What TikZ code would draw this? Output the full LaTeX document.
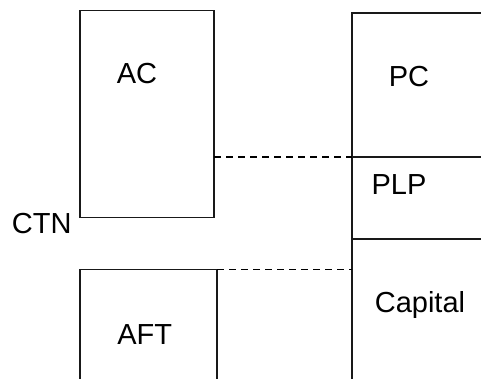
\documentclass[tikz,border=0pt]{standalone}
\usepackage{fontspec}
\setmainfont{Liberation Sans}
\begin{document}
\begin{tikzpicture}[x=1pt,y=-1pt,
  box/.style={draw=black!90, line width=1.2pt, rectangle, inner sep=0pt, outer sep=0pt, anchor=north west},
  lbl/.style={font=\fontsize{29}{33}\selectfont, inner sep=0pt, anchor=base},
  link/.style={draw=black, line width=1.2pt, dash pattern=on 6.5pt off 5.5pt}]
\useasboundingbox (0,0) rectangle (481,379);
\clip (0,0) rectangle (481,379);
% left boxes
\node[box, minimum width=134pt, minimum height=207pt] (ac) at (80,10.5) {};
\node[box, minimum width=137pt, minimum height=140pt] (aft) at (80,269.5) {};
% right column
\node[box, minimum width=150pt, minimum height=144pt] (pc) at (352,13) {};
\node[box, minimum width=150pt, minimum height=82pt] (plp) at (352,157) {};
\node[box, minimum width=150pt, minimum height=160pt] (cap) at (352,239) {};
% labels
\node[lbl] (tac) at (137,83.3) {AC};
\node[lbl] (tpc) at (409,86.5) {PC};
\node[lbl] (tplp) at (399,195) {PLP};
\node[lbl] (tcap) at (420,312.5) {Capital};
\node[lbl] (taft) at (144.7,344) {AFT};
\node[lbl] (tctn) at (41.7,233.3) {CTN};
% dashed links
\draw[link] (ac.east |- plp.north west) -- (plp.north west);
\draw[link] (aft.north east) -- (aft.north east -| cap.west);
\end{tikzpicture}
\end{document}
